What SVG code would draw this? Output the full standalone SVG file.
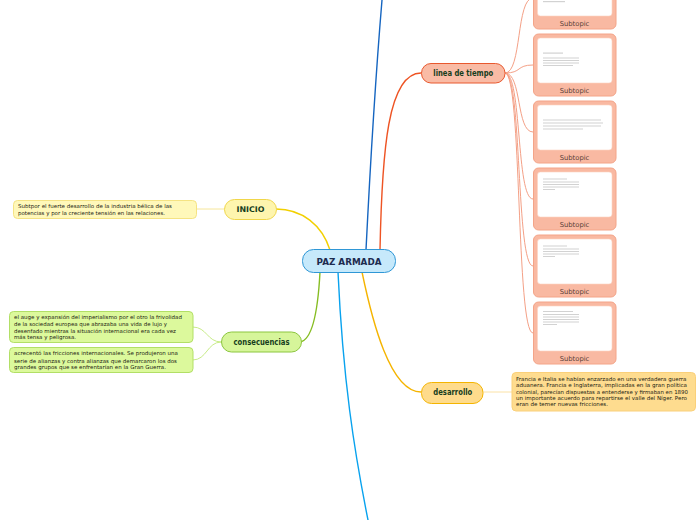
<svg xmlns="http://www.w3.org/2000/svg" width="696" height="520" viewBox="0 0 696 520">
<style>
text{font-family:"DejaVu Sans","Liberation Sans",sans-serif}
.nt{font-size:5.4px;fill:#222212}
.nl{font-weight:bold;fill:#163d1c;text-anchor:middle}
.st{font-size:6.8px;fill:#5a4038;text-anchor:middle}
.conn{fill:none;stroke-linecap:round}
.sub{fill:#f9b9a2;stroke:#f4a488;stroke-width:1}
.inner{fill:#fff;stroke:#fbd3c3;stroke-width:0.6}
.bar{fill:#d2d2d2}
</style>
<rect width="696" height="520" fill="#fff"/>
<g id="connectors">
<path class="conn" d="M366,250 C370,170 377,60 382,0" stroke="#1565c0" stroke-width="1.4"/>
<path class="conn" d="M338,272 C343,380 354,450 368,520" stroke="#08a2ee" stroke-width="1.4"/>
<path class="conn" d="M380,250 C382,150 388,73 421,73" stroke="#ee5424" stroke-width="1.4"/>
<path class="conn" d="M330,250 C322,225 302,209 276,209" stroke="#f2d000" stroke-width="1.4"/>
<path class="conn" d="M320,272 C318,310 313,340 300,342" stroke="#86bd22" stroke-width="1.4"/>
<path class="conn" d="M362,272 C372,320 390,392 421,392" stroke="#f5b400" stroke-width="1.4"/>
<path class="conn" d="M196,209 L224,209" stroke="#f6e69a" stroke-width="1"/>
<path class="conn" d="M221,342 C207,342 207,327 193,327" stroke="#c8ec88" stroke-width="1"/>
<path class="conn" d="M221,342 C207,342 207,360 193,360" stroke="#c8ec88" stroke-width="1"/>
<path class="conn" d="M484,392 L512,392" stroke="#fbe2a6" stroke-width="1"/>
<g stroke="#f4a086" stroke-width="1" fill="none">
<path d="M505,73 C522,73 516,-2 533,-2"/>
<path d="M505,73 C522,73 516,65 533,65"/>
<path d="M505,73 C522,73 516,132 533,132"/>
<path d="M505,73 C522,73 516,199 533,199"/>
<path d="M505,73 C522,73 516,266 533,266"/>
<path d="M505,73 C522,73 516,333 533,333"/>
</g>
</g>
<g id="center">
<rect x="302.5" y="249.5" width="93" height="23" rx="11" fill="#c6e9fb" stroke="#2f97d6" stroke-width="1"/>
<text x="349" y="264.5" font-size="8.8" font-weight="bold" fill="#1d2b4f" text-anchor="middle" textLength="65" lengthAdjust="spacingAndGlyphs">PAZ ARMADA</text>
</g>
<g id="inicio">
<rect x="224.5" y="199.5" width="52" height="20" rx="10" fill="#fef5ae" stroke="#f0d64a" stroke-width="1"/>
<text class="nl" x="250.5" y="212" font-size="7.8" textLength="28" lengthAdjust="spacingAndGlyphs">INICIO</text>
</g>
<g id="inicio-note">
<rect x="13.5" y="200.5" width="183" height="18" rx="4" fill="#fff8ba" stroke="#f5e383" stroke-width="1"/>
<text class="nt" x="18" y="207.5" textLength="154" lengthAdjust="spacingAndGlyphs">Subtpor el fuerte desarrollo de la industria bélica de las</text>
<text class="nt" x="18" y="215" textLength="147" lengthAdjust="spacingAndGlyphs">potencias y por la creciente tensión en las relaciones.</text>
</g>
<g id="consecuencias">
<rect x="221.5" y="332" width="80" height="20" rx="10" fill="#d6f59a" stroke="#8cc63f" stroke-width="1"/>
<text class="nl" x="261.5" y="345.3" font-size="8.5" textLength="56" lengthAdjust="spacingAndGlyphs">consecuencias</text>
</g>
<g id="consecuencias-note1">
<rect x="9.5" y="311.5" width="183.5" height="31" rx="4" fill="#dcf99c" stroke="#b2df66" stroke-width="1"/>
<text class="nt" x="14" y="318.5" textLength="168" lengthAdjust="spacingAndGlyphs">el auge y expansión del imperialismo por el otro la frivolidad</text>
<text class="nt" x="14" y="326" textLength="153" lengthAdjust="spacingAndGlyphs">de la sociedad europea que abrazaba una vida de lujo y</text>
<text class="nt" x="14" y="332.5" textLength="162" lengthAdjust="spacingAndGlyphs">desenfado mientras la situación internacional era cada vez</text>
<text class="nt" x="14" y="339" textLength="62" lengthAdjust="spacingAndGlyphs">más tensa y peligrosa.</text>
</g>
<g id="consecuencias-note2">
<rect x="9.5" y="347.5" width="183.5" height="25" rx="4" fill="#dcf99c" stroke="#b2df66" stroke-width="1"/>
<text class="nt" x="14" y="355" textLength="164" lengthAdjust="spacingAndGlyphs">acrecentó las fricciones internacionales. Se produjeron una</text>
<text class="nt" x="14" y="362.8" textLength="163" lengthAdjust="spacingAndGlyphs">serie de alianzas y contra alianzas que demarcaron los dos</text>
<text class="nt" x="14" y="369" textLength="152" lengthAdjust="spacingAndGlyphs">grandes grupos que se enfrentarían en la Gran Guerra.</text>
</g>
<g id="linea">
<rect x="421.5" y="63.5" width="83.5" height="19.5" rx="9.5" fill="#f9bba5" stroke="#e8582e" stroke-width="1"/>
<text class="nl" x="463.3" y="76" font-size="8" textLength="60" lengthAdjust="spacingAndGlyphs">linea de tiempo</text>
</g>
<g id="desarrollo">
<rect x="421.5" y="382.5" width="61.5" height="21" rx="10" fill="#fedb8c" stroke="#f4b400" stroke-width="1"/>
<text class="nl" x="452.8" y="395" font-size="8" textLength="39" lengthAdjust="spacingAndGlyphs">desarrollo</text>
</g>
<g id="desarrollo-note">
<rect x="512" y="372.5" width="183.5" height="38.5" rx="4" fill="#fedc8f" stroke="#fad07a" stroke-width="1"/>
<text class="nt" x="516" y="381" textLength="170.5" lengthAdjust="spacingAndGlyphs">Francia e Italia se habían enzarzado en una verdadera guerra</text>
<text class="nt" x="516" y="387.3" textLength="171" lengthAdjust="spacingAndGlyphs">aduanera. Francia e Inglaterra, implicadas en la gran política</text>
<text class="nt" x="516" y="393.6" textLength="172" lengthAdjust="spacingAndGlyphs">colonial, parecían dispuestas a entenderse y firmaban en 1890</text>
<text class="nt" x="516" y="400" textLength="171" lengthAdjust="spacingAndGlyphs">un importante acuerdo para repartirse el valle del Níger. Pero</text>
<text class="nt" x="516" y="406.3" textLength="92" lengthAdjust="spacingAndGlyphs">eran de temer nuevas fricciones.</text>
</g>
<g id="subtopic0">
<rect class="sub" x="533.5" y="-33" width="82.5" height="62" rx="5"/>
<rect class="inner" x="537.5" y="-29" width="74.5" height="45" rx="3"/>
<rect class="bar" x="543" y="1" width="22" height="1.2"/>
<text class="st" x="574.5" y="25.5">Subtopic</text>
</g>
<g id="subtopic1">
<rect class="sub" x="533.5" y="34" width="82.5" height="62" rx="5"/>
<rect class="inner" x="537.5" y="38" width="74.5" height="45" rx="3"/>
<rect class="bar" x="543" y="52.5" width="20" height="1.2"/>
<rect class="bar" x="543" y="57.5" width="36" height="1"/>
<rect class="bar" x="543" y="60" width="36" height="1"/>
<rect class="bar" x="543" y="62.5" width="36" height="1"/>
<rect class="bar" x="543" y="65" width="30" height="1"/>
<text class="st" x="574.5" y="93">Subtopic</text>
</g>
<g id="subtopic2">
<rect class="sub" x="533.5" y="101" width="82.5" height="62" rx="5"/>
<rect class="inner" x="537.5" y="105" width="74.5" height="45" rx="3"/>
<rect class="bar" x="543" y="119.5" width="58" height="1"/>
<rect class="bar" x="543" y="122.5" width="60" height="1"/>
<rect class="bar" x="543" y="125.5" width="58" height="1"/>
<rect class="bar" x="543" y="128.5" width="40" height="1"/>
<text class="st" x="574.5" y="160">Subtopic</text>
</g>
<g id="subtopic3">
<rect class="sub" x="533.5" y="168" width="82.5" height="62" rx="5"/>
<rect class="inner" x="537.5" y="172" width="74.5" height="45" rx="3"/>
<rect class="bar" x="543" y="178.5" width="24" height="1"/>
<rect class="bar" x="543" y="181.5" width="36" height="1"/>
<rect class="bar" x="543" y="184" width="36" height="1"/>
<rect class="bar" x="543" y="186.5" width="36" height="1"/>
<rect class="bar" x="543" y="189" width="12" height="1"/>
<text class="st" x="574.5" y="227">Subtopic</text>
</g>
<g id="subtopic4">
<rect class="sub" x="533.5" y="235" width="82.5" height="62" rx="5"/>
<rect class="inner" x="537.5" y="239" width="74.5" height="45" rx="3"/>
<rect class="bar" x="543" y="245.5" width="24" height="1"/>
<rect class="bar" x="543" y="248.5" width="36" height="1"/>
<rect class="bar" x="543" y="251" width="36" height="1"/>
<rect class="bar" x="543" y="253.5" width="36" height="1"/>
<rect class="bar" x="543" y="256" width="12" height="1"/>
<text class="st" x="574.5" y="294">Subtopic</text>
</g>
<g id="subtopic5">
<rect class="sub" x="533.5" y="302" width="82.5" height="62" rx="5"/>
<rect class="inner" x="537.5" y="306" width="74.5" height="45" rx="3"/>
<rect class="bar" x="543" y="311" width="30" height="1"/>
<rect class="bar" x="543" y="314" width="36" height="1"/>
<rect class="bar" x="543" y="316.5" width="36" height="1"/>
<rect class="bar" x="543" y="319" width="36" height="1"/>
<rect class="bar" x="543" y="321.5" width="36" height="1"/>
<rect class="bar" x="543" y="324" width="14" height="1"/>
<text class="st" x="574.5" y="361">Subtopic</text>
</g>
</svg>
